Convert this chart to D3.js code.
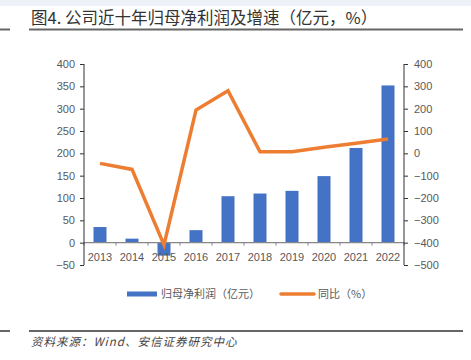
<!DOCTYPE html>
<html>
<head>
<meta charset="utf-8">
<script src="https://cdn.jsdelivr.net/npm/d3@7"></script>
<style>
  body { margin: 0; background: #fff; }
  svg text { font-family: "Liberation Sans", Arial, sans-serif; }
  .cjk { font-family: "Noto Sans CJK SC", sans-serif; }
</style>
</head>
<body>
<svg id="chart" width="471" height="360"></svg>
<script>
// data
let years = ["2013","2014","2015","2016","2017","2018","2019","2020","2021","2022"];
let profit = [35, 9, -29, 28, 104, 110, 116, 149, 212, 352];
let growth = [-45, -72, -410, 194, 280, 7, 7, 27, 45, 64];
let leftTicks = [-50, 0, 50, 100, 150, 200, 250, 300, 350, 400];
let rightTicks = [-500, -400, -300, -200, -100, 0, 100, 200, 300, 400];

let margin = {left: 84, right: 404, top: 64, bottom: 265};
let svg = d3.select("svg#chart");

// header band + rules
svg.append("rect").attr("x", 0).attr("y", 0).attr("width", 471).attr("height", 6).attr("fill", "#eef1f7");
svg.append("line").attr("x1", 0).attr("x2", 10).attr("y1", 29.5).attr("y2", 29.5)
   .attr("stroke", "#666").attr("stroke-width", 2);
svg.append("line").attr("x1", 29).attr("x2", 463).attr("y1", 29.5).attr("y2", 29.5)
   .attr("stroke", "#666").attr("stroke-width", 2);
svg.append("text").attr("class", "cjk").attr("x", 31).attr("y", 24)
   .attr("font-size", 16.5).attr("font-weight", "normal").attr("fill", "#333")
   .text("图4. 公司近十年归母净利润及增速（亿元，%）");

let x = d3.scaleBand().domain(years).range([margin.left, margin.right]);
let yL = d3.scaleLinear().domain([-50, 400]).range([margin.bottom, margin.top]);
let yR = d3.scaleLinear().domain([-500, 400]).range([margin.bottom, margin.top]);

// bars
svg.append("g").selectAll("rect").data(profit).enter().append("rect")
  .attr("x", function(d, i) { return x(years[i]) + x.bandwidth()/2 - 6.5; })
  .attr("width", 13)
  .attr("y", function(d) { return d >= 0 ? yL(d) : yL(0); })
  .attr("height", function(d) { return Math.abs(yL(d) - yL(0)); })
  .attr("fill", "#4472c4");

// x axis at zero
let xAxis = svg.append("g").attr("transform", "translate(0," + yL(0) + ")");
xAxis.append("line").attr("x1", margin.left).attr("x2", margin.right)
  .attr("stroke", "#868686").attr("stroke-width", 1.3);
xAxis.selectAll("line.tk").data(d3.range(years.length + 1)).enter().append("line")
  .attr("class", "tk")
  .attr("x1", function(i) { return margin.left + i * x.step(); })
  .attr("x2", function(i) { return margin.left + i * x.step(); })
  .attr("y1", 0).attr("y2", 3).attr("stroke", "#868686");

svg.append("g").selectAll("text").data(years).enter().append("text")
  .attr("x", function(d) { return x(d) + x.bandwidth()/2; })
  .attr("y", 260.5).attr("text-anchor", "middle")
  .attr("font-size", 11).attr("fill", "#595959").text(function(d) { return d; });

// left axis
let gl = svg.append("g").attr("transform", "translate(" + margin.left + ",0)")
  .call(d3.axisLeft(yL).tickValues(leftTicks).tickSize(4).tickPadding(5));
gl.select(".domain").attr("stroke", "#333").attr("d", "M0," + margin.top + "V" + margin.bottom);
gl.selectAll(".tick line").attr("stroke", "#333");
gl.selectAll("text").attr("font-size", 11).attr("fill", "#595959")
  .attr("font-family", "Liberation Sans, Arial, sans-serif");

// right axis
let gr = svg.append("g").attr("transform", "translate(" + margin.right + ",0)")
  .call(d3.axisRight(yR).tickValues(rightTicks).tickSize(4).tickPadding(6));
gr.select(".domain").attr("stroke", "#333").attr("d", "M0," + margin.top + "V" + margin.bottom);
gr.selectAll(".tick line").attr("stroke", "#333");
gr.selectAll("text").attr("font-size", 11).attr("fill", "#595959")
  .attr("font-family", "Liberation Sans, Arial, sans-serif");

// growth line
let line = d3.line()
  .x(function(d, i) { return x(years[i]) + x.bandwidth()/2; })
  .y(function(d) { return yR(d); });
svg.append("path").datum(growth).attr("d", line)
  .attr("fill", "none").attr("stroke", "#ed7d31").attr("stroke-width", 3.5)
  .attr("stroke-linejoin", "miter");

// legend
let lg = svg.append("g");
lg.append("rect").attr("x", 127).attr("y", 291.5).attr("width", 30).attr("height", 5).attr("fill", "#4472c4");
lg.append("text").attr("class", "cjk").attr("x", 161).attr("y", 298).attr("font-size", 11)
  .attr("fill", "#595959").text("归母净利润（亿元）");
lg.append("line").attr("x1", 281).attr("x2", 314).attr("y1", 294).attr("y2", 294)
  .attr("stroke", "#ed7d31").attr("stroke-width", 3.5).attr("stroke-linecap", "round");
lg.append("text").attr("class", "cjk").attr("x", 318).attr("y", 298).attr("font-size", 11)
  .attr("fill", "#595959").text("同比（%）");

// footer
svg.append("line").attr("x1", 0).attr("x2", 10).attr("y1", 331).attr("y2", 331)
   .attr("stroke", "#666").attr("stroke-width", 2);
svg.append("line").attr("x1", 29).attr("x2", 463).attr("y1", 331).attr("y2", 331)
   .attr("stroke", "#666").attr("stroke-width", 2);
svg.append("text").attr("class", "cjk").attr("x", 31).attr("y", 346).attr("font-size", 11.5)
  .attr("font-style", "italic").attr("fill", "#444").attr("letter-spacing", 1)
  .text("资料来源：Wind、安信证券研究中心");
</script>
</body>
</html>
